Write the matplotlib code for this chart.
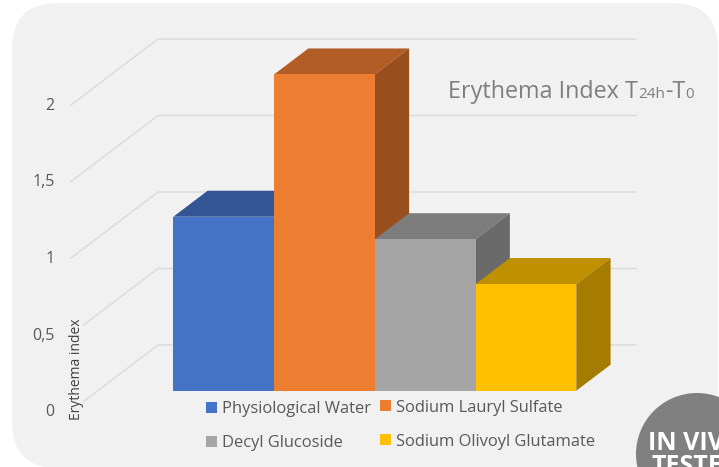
import matplotlib
matplotlib.use("Agg")
import matplotlib.pyplot as plt
from matplotlib.patches import Polygon, FancyBboxPatch, Circle, Rectangle

# ---- data ----
categories = ["Physiological Water", "Sodium Lauryl Sulfate", "Decyl Glucoside", "Sodium Olivoyl Glutamate"]
values = [1.137, 2.067, 0.99, 0.697]
tick_values = [0, 0.5, 1, 1.5, 2]
tick_labels = ["0", "0,5", "1", "1,5", "2"]
front_colors = ["#4472C4", "#ED7D31", "#A5A5A5", "#FFC000"]
top_colors = ["#335593", "#B25D25", "#7C7C7C", "#BF9000"]
side_colors = ["#2E4E8C", "#984E1D", "#6A6A6A", "#A57C00"]

W, H = 719, 467
plt.rcParams["font.family"] = ["Open Sans", "DejaVu Sans"]
fig = plt.figure(figsize=(W / 100, H / 100), dpi=100, facecolor="white")

# pixel-space axes for layout
bg = fig.add_axes([0, 0, 1, 1], zorder=0)
bg.set_xlim(0, W); bg.set_ylim(H, 0); bg.axis("off")
R = 46
bg.add_patch(FancyBboxPatch((12 + R, 3 + R), 706 - 2 * R, 465 - 2 * R,
                            boxstyle=f"round,pad={R},rounding_size={R}",
                            fc="#F1F1F1", ec="none", zorder=0))

# data axes: x in bar widths, y in erythema-index units
bar_px = 100.75; unit_px = 153.0; x0_px = 173.3; y0_px = 390.7
ax = fig.add_axes([0, 0, 1, 1], zorder=1)
ax.set_xlim(-x0_px / bar_px, (W - x0_px) / bar_px)
ax.set_ylim((y0_px - H) / unit_px, y0_px / unit_px)
ax.axis("off"); ax.patch.set_alpha(0)

# gridlines on floor/back wall
back_dy = (y0_px - 345) / unit_px
slope_dx = 87 / bar_px; slope_dy = 66 / unit_px
back_x = (158 - x0_px) / bar_px
right_x = (636 - x0_px) / bar_px
for v in tick_values:
    frac = 0.86 if v < 1 else 1.0
    ax.plot([back_x - slope_dx * frac, back_x, right_x],
            [v + back_dy - slope_dy * frac, v + back_dy, v + back_dy],
            color="#DADADA", lw=1.0, zorder=1, solid_joinstyle="miter")

# 3-D bars
depth_x = 34.3 / bar_px; depth_y = 26.0 / unit_px
for i, v in enumerate(values):
    z = 2 + i
    ax.bar(i, v, width=1, align="edge", color=front_colors[i], lw=0, zorder=z + 0.2)
    ax.add_patch(Polygon([(i, v), (i + 1, v), (i + 1 + depth_x, v + depth_y), (i + depth_x, v + depth_y)],
                         closed=True, fc=top_colors[i], ec="none", zorder=z))
    ax.add_patch(Polygon([(i + 1, 0), (i + 1 + depth_x, depth_y), (i + 1 + depth_x, v + depth_y), (i + 1, v)],
                         closed=True, fc=side_colors[i], ec="none", zorder=z))

# text/overlay axes in pixels
fg = fig.add_axes([0, 0, 1, 1], zorder=2)
fg.set_xlim(0, W); fg.set_ylim(H, 0); fg.axis("off"); fg.patch.set_alpha(0)

for v, lab in zip(tick_values, tick_labels):
    fg.text(54.5, 410 - v * unit_px, lab, ha="right", va="center_baseline",
            fontsize=11.5, color="#595959")

fg.text(76, 369.5, "Erythema index", rotation=90, ha="center", va="center", fontsize=10, color="#404040")

# title pieces
pieces = [("Erythema Index T", 16.8, 0.0), ("24h", 11.0, 0.5), ("-T", 16.8, 0.0), ("0", 11.0, 0.0)]
fig.canvas.draw()
rend = fig.canvas.get_renderer()
x = 448.0
for s, fs, gap in pieces:
    t = fg.text(x, 98, s, fontsize=fs, color="#7F7F7F", ha="left", va="baseline")
    bb = t.get_window_extent(rend)
    x += bb.width + gap

# legend
legend_pos = [(206, 407, 222), (380, 405.5, 395.5), (206, 441, 222), (380, 439.5, 395.5)]
for (mx, my, tx), name, col in zip(legend_pos, categories, front_colors):
    fg.add_patch(Rectangle((mx, my - 5.5), 11, 11, fc=col, ec="none"))
    fg.text(tx, my, name, ha="left", va="center_baseline", fontsize=11.9, color="#595959")

# badge
fg.add_patch(Circle((697, 454), 61, fc="#808080", ec="none"))
fg.text(648, 450, "IN VIVO", fontsize=18, fontweight="bold", color="white", ha="left", va="baseline")
fg.text(651, 473, "TESTED", fontsize=18, fontweight="bold", color="white", ha="left", va="baseline")

fig.savefig("out.png", dpi=100, facecolor="white")
